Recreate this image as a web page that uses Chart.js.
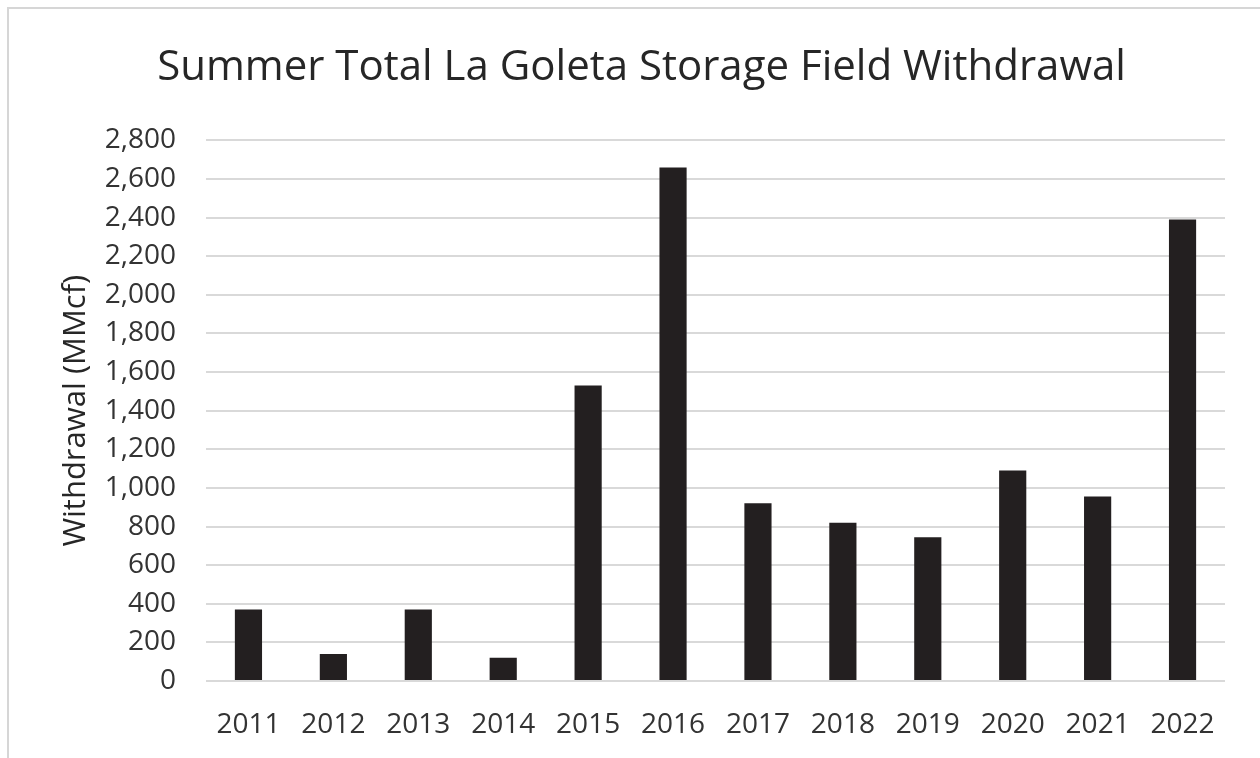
<!DOCTYPE html>
<html>
<head>
<meta charset="utf-8">
<script src="https://cdn.jsdelivr.net/npm/chart.js@4"></script>
<style>
  html, body { margin: 0; padding: 0; background: #fff; overflow: hidden; }
  #frame {
    position: absolute; left: 7px; top: 7px; width: 1300px; height: 800px;
    border: 2px solid #d6d6d6; box-sizing: border-box;
  }
  #wrap { position: absolute; left: 0; top: 0; width: 1260px; height: 758px; }
</style>
</head>
<body>
<div id="frame"></div>
<div id="wrap"><canvas id="withdrawalChart" width="1260" height="758"></canvas></div>
<script>
const years = ['2011', '2012', '2013', '2014', '2015', '2016', '2017', '2018', '2019', '2020', '2021', '2022'];
const withdrawal = [370, 140, 370, 120, 1530, 2660, 920, 820, 745, 1090, 955, 2390];
const yMax = 2800;
const yStep = 200;

document.addEventListener('DOMContentLoaded', function () {
  const ctx = document.getElementById('withdrawalChart').getContext('2d');
  const fontFamily = "'Open Sans', 'Noto Sans', sans-serif";

  const data = {
    labels: years,
    datasets: [{
      label: 'Withdrawal',
      data: withdrawal,
      backgroundColor: '#231f20',
      borderWidth: 0,
      barPercentage: 0.32,
      categoryPercentage: 1.0
    }]
  };

  const config = {
    type: 'bar',
    data: data,
    options: {
      responsive: false,
      animation: false,
      layout: {
        padding: { top: 8, left: 58, right: 35, bottom: 21 }
      },
      plugins: {
        legend: { display: false },
        tooltip: { enabled: false },
        title: {
          display: true,
          text: 'Summer Total La Goleta Storage Field Withdrawal',
          color: '#262626',
          font: { family: fontFamily, size: 42, weight: 'normal', lineHeight: 1.2 },
          padding: { top: 35, bottom: 47 }
        }
      },
      scales: {
        x: {
          afterFit: function (scale) { scale.height = 56; },
          grid: { display: false, drawTicks: false },
          border: { display: false },
          ticks: {
            color: '#333333',
            padding: 27,
            maxRotation: 0,
            font: { family: fontFamily, size: 28 }
          }
        },
        y: {
          min: 0,
          max: yMax,
          afterFit: function (scale) { scale.width = 148; },
          grid: { color: '#d9d9d9', lineWidth: 2, drawTicks: false },
          border: { display: false },
          ticks: {
            stepSize: yStep,
            color: '#333333',
            padding: 30,
            font: { family: fontFamily, size: 28 },
            callback: function (v) { return v.toLocaleString('en-US'); }
          },
          title: {
            display: true,
            text: 'Withdrawal (MMcf)',
            color: '#262626',
            padding: 0,
            font: { family: fontFamily, size: 31 }
          }
        }
      }
    }
  };

  new Chart(ctx, config);
});
</script>
</body>
</html>
